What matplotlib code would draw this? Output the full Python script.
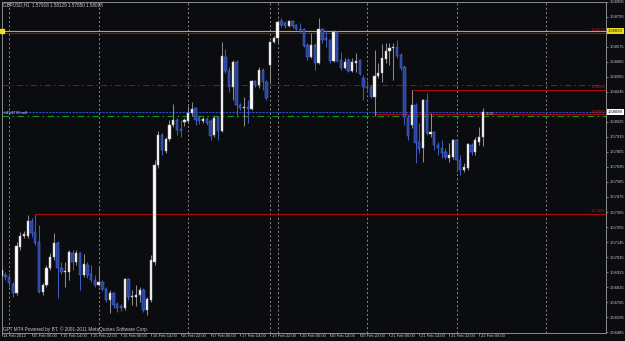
import matplotlib
matplotlib.use("Agg")
import matplotlib.pyplot as plt
from matplotlib.transforms import blended_transform_factory, ScaledTranslation

plt.rcParams['font.family'] = ['Liberation Sans', 'DejaVu Sans']

# ---------------- data (GBPUSD H1, bar 0 = 14 Feb 2012 22:00) ----------------
opens = [1.56896, 1.56903, 1.56889, 1.56837, 1.56771, 1.57109, 1.57189, 1.57189, 1.57299, 1.57218,
         1.57145, 1.56778, 1.56829, 1.56954, 1.57035, 1.57138, 1.56954, 1.56925, 1.56925, 1.57064,
         1.56998, 1.57064, 1.56903, 1.56976, 1.56911, 1.56866, 1.56829, 1.56851, 1.56800, 1.56720,
         1.56771, 1.56691, 1.56676, 1.56661, 1.56874, 1.56742, 1.56742, 1.56756, 1.56793, 1.56646,
         1.56720, 1.56998, 1.57709, 1.57929, 1.57813, 1.57900, 1.58003, 1.58040, 1.57974, 1.58025,
         1.58033, 1.58091, 1.58127, 1.58054, 1.58033, 1.58047, 1.58033, 1.57929, 1.58062, 1.57959,
         1.58502, 1.58399, 1.58282, 1.58465, 1.58149, 1.58127, 1.58135, 1.58120, 1.58326, 1.58296,
         1.58406, 1.58318, 1.58443, 1.58611, 1.58641, 1.58766, 1.58751, 1.58729, 1.58766, 1.58736,
         1.58707, 1.58707, 1.58589, 1.58502, 1.58589, 1.58458, 1.58707, 1.58641, 1.58626, 1.58473,
         1.58685, 1.58480, 1.58421, 1.58480, 1.58399, 1.58458, 1.58480, 1.58347, 1.58282, 1.58282,
         1.58209, 1.58362, 1.58384, 1.58487, 1.58546, 1.58567, 1.58575, 1.58516, 1.58429, 1.58054,
         1.58003, 1.58149, 1.57878, 1.57834, 1.58186, 1.57937, 1.57951, 1.57856, 1.57834, 1.57805,
         1.57761, 1.57769, 1.57893, 1.57746, 1.57673, 1.57687, 1.57856, 1.57805, 1.57878, 1.57918]
highs = [1.56969, 1.56925, 1.56918, 1.56851, 1.57145, 1.57218, 1.57226, 1.57343, 1.57321, 1.57351,
         1.57269, 1.56844, 1.56976, 1.57064, 1.57211, 1.57153, 1.56998, 1.56998, 1.57086, 1.57086,
         1.57086, 1.57071, 1.57057, 1.56998, 1.56976, 1.56903, 1.56962, 1.56866, 1.56815, 1.56793,
         1.56778, 1.56705, 1.56691, 1.56881, 1.56881, 1.56793, 1.56829, 1.56815, 1.56807, 1.56742,
         1.57049, 1.57746, 1.57959, 1.57944, 1.57915, 1.58040, 1.58157, 1.58054, 1.58040, 1.58054,
         1.58142, 1.58171, 1.58135, 1.58069, 1.58062, 1.58062, 1.58047, 1.58069, 1.58069, 1.58611,
         1.58560, 1.58429, 1.58480, 1.58480, 1.58164, 1.58209, 1.58186, 1.58333, 1.58333, 1.58429,
         1.58421, 1.58333, 1.58619, 1.58656, 1.58773, 1.58787, 1.58766, 1.58773, 1.58773, 1.58744,
         1.58751, 1.58714, 1.58604, 1.58678, 1.58604, 1.58787, 1.58714, 1.58700, 1.58634, 1.58700,
         1.58693, 1.58538, 1.58494, 1.58494, 1.58494, 1.58531, 1.58487, 1.58369, 1.58333, 1.58296,
         1.58553, 1.58458, 1.58597, 1.58604, 1.58604, 1.58604, 1.58626, 1.58531, 1.58443, 1.58076,
         1.58260, 1.58164, 1.58018, 1.58194, 1.58238, 1.58091, 1.57959, 1.57878, 1.57893, 1.57834,
         1.57871, 1.57900, 1.57900, 1.57783, 1.57724, 1.57871, 1.57871, 1.57915, 1.57989, 1.58129]
lows = [1.56866, 1.56866, 1.56815, 1.56742, 1.56756, 1.57086, 1.57174, 1.57174, 1.57182, 1.57123,
        1.56771, 1.56756, 1.56815, 1.56940, 1.57013, 1.56734, 1.56911, 1.56815, 1.56866, 1.56940,
        1.56976, 1.56793, 1.56889, 1.56881, 1.56851, 1.56815, 1.56822, 1.56786, 1.56705, 1.56624,
        1.56661, 1.56631, 1.56639, 1.56646, 1.56720, 1.56683, 1.56676, 1.56705, 1.56631, 1.56609,
        1.56705, 1.56976, 1.57687, 1.57783, 1.57798, 1.57886, 1.57989, 1.57929, 1.57915, 1.57996,
        1.58018, 1.58069, 1.58003, 1.58011, 1.58018, 1.58003, 1.57893, 1.57915, 1.57893, 1.57951,
        1.58384, 1.58245, 1.58186, 1.58062, 1.58113, 1.57996, 1.58018, 1.58113, 1.58282, 1.58274,
        1.58260, 1.58186, 1.58318, 1.58604, 1.58604, 1.58722, 1.58714, 1.58722, 1.58714, 1.58700,
        1.58678, 1.58575, 1.58480, 1.58494, 1.58406, 1.58451, 1.58604, 1.58575, 1.58458, 1.58465,
        1.58465, 1.58406, 1.58414, 1.58391, 1.58391, 1.58391, 1.58369, 1.58186, 1.58245, 1.58201,
        1.58069, 1.58347, 1.58318, 1.58458, 1.58443, 1.58333, 1.58494, 1.58406, 1.58003, 1.57893,
        1.57981, 1.57724, 1.57798, 1.57731, 1.57929, 1.57915, 1.57820, 1.57783, 1.57761, 1.57754,
        1.57731, 1.57754, 1.57658, 1.57636, 1.57658, 1.57673, 1.57783, 1.57783, 1.57856, 1.57850]
closes = [1.56940, 1.56889, 1.56844, 1.56771, 1.57116, 1.57189, 1.57204, 1.57299, 1.57211, 1.57138,
          1.56778, 1.56829, 1.56954, 1.57035, 1.57138, 1.56954, 1.56925, 1.56933, 1.57071, 1.56998,
          1.57064, 1.56903, 1.56984, 1.56903, 1.56866, 1.56829, 1.56851, 1.56800, 1.56720, 1.56771,
          1.56683, 1.56661, 1.56661, 1.56874, 1.56742, 1.56749, 1.56756, 1.56793, 1.56646, 1.56727,
          1.57013, 1.57709, 1.57929, 1.57820, 1.57900, 1.58003, 1.58040, 1.57966, 1.57959, 1.58040,
          1.58091, 1.58120, 1.58040, 1.58033, 1.58047, 1.58018, 1.57922, 1.58054, 1.57959, 1.58509,
          1.58399, 1.58282, 1.58465, 1.58149, 1.58127, 1.58135, 1.58120, 1.58326, 1.58296, 1.58406,
          1.58318, 1.58201, 1.58611, 1.58641, 1.58758, 1.58736, 1.58729, 1.58766, 1.58729, 1.58707,
          1.58704, 1.58582, 1.58502, 1.58589, 1.58458, 1.58707, 1.58626, 1.58626, 1.58473, 1.58685,
          1.58473, 1.58421, 1.58465, 1.58399, 1.58465, 1.58473, 1.58377, 1.58282, 1.58274, 1.58209,
          1.58362, 1.58384, 1.58494, 1.58546, 1.58567, 1.58575, 1.58509, 1.58421, 1.58062, 1.57922,
          1.58149, 1.57871, 1.57827, 1.58186, 1.57944, 1.57951, 1.57856, 1.57834, 1.57798, 1.57769,
          1.57783, 1.57893, 1.57746, 1.57673, 1.57695, 1.57864, 1.57805, 1.57893, 1.57915, 1.58098]

symbol = "GBPUSD,H1"
date_label_bars = [0, 8, 16, 24, 32, 40, 48, 56, 64, 72, 80, 88, 96, 104, 112, 120, 128]
date_labels = ["14 Feb 2012", "15 Feb 06:00", "15 Feb 14:00", "15 Feb 22:00", "16 Feb 06:00",
               "16 Feb 14:00", "16 Feb 22:00", "17 Feb 06:00", "17 Feb 14:00", "19 Feb 22:00",
               "20 Feb 06:00", "20 Feb 14:00", "20 Feb 22:00", "21 Feb 06:00", "21 Feb 14:00",
               "21 Feb 22:00", "22 Feb 06:00"]
separator_bars = [2, 26, 50, 72, 74, 98, 122, 146]
# price scale labels (the ones hidden under the yellow and bid boxes are left out)
price_ticks = [1.56485, 1.56595, 1.56705, 1.56815, 1.56925, 1.57035, 1.57145, 1.57255, 1.57365,
               1.57475, 1.57585, 1.57695, 1.57805, 1.57915, 1.58025, 1.58245, 1.58355,
               1.58465, 1.58575, 1.58795, 1.58905]

yellow_level = 1.58693
red_full_level = 1.58678
sl_level = 1.58296           # red dash-dot
order_level = 1.58069        # green dash-dot
order_text = "#454778 sell"
bid_level = 1.58098          # blue line
red_segments = [(110, 1.58260), (100, 1.58080), (9, 1.57351)]   # (start bar, price)
time_left = "5:58"
copyright_text = "GFT MT4 Powered by BT. \u00a9 2001-2011 MetaQuotes Software Corp."

# ---------------- styling ----------------
BG = '#0b0c0f'
FRAME = '#8c8c8c'
TXT = '#c8c8c8'
BULL_FACE, BULL_EDGE, BULL_WICK = '#ffffff', '#b0b0b0', '#8a8a8a'
BEAR_FACE, BEAR_EDGE, BEAR_WICK = '#2642a4', '#5472d4', '#3d5bb8'
RED = '#a80808'
FS = 2.95

W, H = 625, 341
fig = plt.figure(figsize=(W / 100, H / 100), dpi=100)
fig.patch.set_facecolor(BG)
L, R, T, B = 1.7, 606.5, 1.7, 332.7
ax = fig.add_axes([L / W, 1 - B / H, (R - L) / W, (B - T) / H])
ax.set_facecolor(BG)

n = len(opens)
xs = list(range(n))
ax.set_xlim(0, 162.2)
ax.set_ylim(1.56480, 1.58907)

# separators
for b in separator_bars:
    ax.axvline(b, color='#8a8a8a', lw=0.7, ls=(0, (2, 2.5)), zorder=1)

# horizontal levels
ax.axhline(yellow_level, color='#bfae2a', lw=0.8, zorder=2)
ax.axhline(red_full_level, color=RED, lw=0.8, zorder=2)
ax.axhline(sl_level, color=RED, lw=0.75, ls=(0, (6, 3, 1.5, 3)), zorder=2)
ax.axhline(bid_level, color='#2a4ccc', lw=0.8, ls=(0, (2, 1)), zorder=2)
ax.axhline(order_level, color='#129a12', lw=0.8, ls=(0, (6, 3, 1.5, 3)), zorder=2)
xmax = ax.get_xlim()[1]
for start, lvl in red_segments:
    ax.hlines(lvl, start, xmax, color=RED, lw=0.8, zorder=2)

# red price labels at right inside the chart
off_up = ScaledTranslation(0, 0.4 / 72, fig.dpi_scale_trans)
for lvl in [red_full_level] + [s[1] for s in red_segments]:
    ax.text(xmax - 0.2, lvl, f"{lvl:.5f}", color='#c01818', fontsize=FS, ha='right', va='bottom',
            transform=ax.transData + off_up, zorder=3)

# candles
for i in xs:
    o, h, l, c = opens[i], highs[i], lows[i], closes[i]
    bull = c >= o
    wick = BULL_WICK if bull else BEAR_WICK
    ax.vlines(i, l, h, color=wick, lw=0.75, zorder=4)
    lo, hi = min(o, c), max(o, c)
    if hi - lo < 0.00003:
        ax.hlines((o + c) / 2, i - 0.32, i + 0.32, color=BULL_WICK, lw=0.8, zorder=5)
    else:
        ax.bar(i, hi - lo, bottom=lo, width=0.62,
               color=BULL_FACE if bull else BEAR_FACE,
               edgecolor=BULL_EDGE if bull else BEAR_EDGE, linewidth=0.35, zorder=5)

# spines / axes
for s in ax.spines.values():
    s.set_color(FRAME)
    s.set_linewidth(0.7)
ax.yaxis.tick_right()
ax.set_yticks(price_ticks)
ax.set_yticklabels([f"{p:.5f}" for p in price_ticks])
ax.tick_params(axis='y', colors=FRAME, labelcolor=TXT, labelsize=FS, length=1.6, width=0.6, pad=1.0)
ax.set_xticks(date_label_bars)
ax.set_xticklabels([])
ax.tick_params(axis='x', colors=FRAME, length=2.5, width=0.6)
bt = blended_transform_factory(ax.transData, ax.transAxes)
off = ScaledTranslation(1.2 / 72, -0.9 / 72, fig.dpi_scale_trans)
for b, lab in zip(date_label_bars, date_labels):
    ax.text(b, 0, lab, transform=bt + off, ha='left', va='top', color=TXT, fontsize=FS)

# axis value boxes
by = blended_transform_factory(ax.transAxes, ax.transData)
box_off = ScaledTranslation(1.2 / 72, 0, fig.dpi_scale_trans)
ax.text(1.0, yellow_level, f"{yellow_level:.5f}", transform=by + box_off,
        ha='left', va='center', fontsize=FS, color='#202000', clip_on=False,
        bbox=dict(boxstyle='square,pad=0.2', fc='#e8dc1e', ec='none'))
ax.text(1.0, bid_level, f"{bid_level:.5f}", transform=by + box_off,
        ha='left', va='center', fontsize=FS, color='#000000', clip_on=False,
        bbox=dict(boxstyle='square,pad=0.2', fc='#ffffff', ec='none'))
ax.plot([0], [yellow_level], marker='s', ms=2.2, color='#f0e020', clip_on=False, zorder=6)

# texts
fig.text(3.3 / W, 1 - 5.2 / H,
         f"{symbol}  {opens[-1]:.5f} {highs[-1]:.5f} {lows[-1]:.5f} {closes[-1]:.5f}",
         color=TXT, fontsize=3.3, ha='left', va='center')
fig.text(2.8 / W, 1 - 329 / H, copyright_text, color=TXT, fontsize=3.4, ha='left', va='center')
ax.text(n - 1 + 0.8, bid_level, time_left, color='#b8b8b8', fontsize=FS, ha='left', va='top', zorder=6)
ax.text(0.6, order_level, order_text, color=TXT, fontsize=FS, ha='left', va='bottom',
        transform=ax.transData + off_up, zorder=6)

fig.savefig("out.png", dpi=100, facecolor=BG)
